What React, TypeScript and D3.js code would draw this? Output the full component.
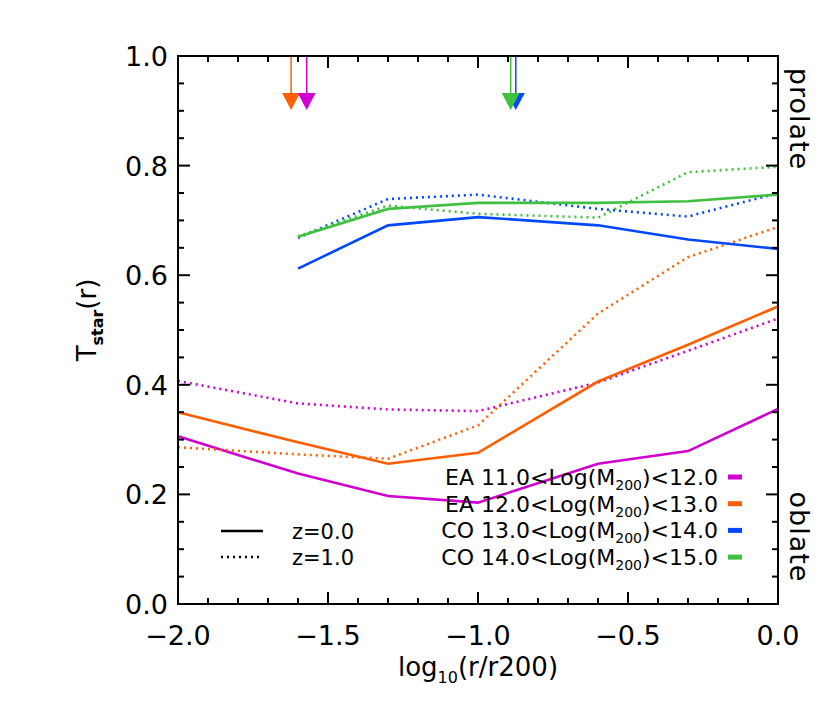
import React from 'react';
import * as d3 from 'd3';

// log10(r/r200) sample points
const radii = [-2.0, -1.6, -1.3, -1.0, -0.6, -0.3, 0.0];

// T_star(r) per mass bin, z=0 (solid) and z=1 (dotted)
const eaLowZ0 = [0.306, 0.238, 0.197, 0.185, 0.256, 0.279, 0.356];
const eaLowZ1 = [0.407, 0.366, 0.355, 0.352, 0.404, 0.462, 0.521];
const eaHighZ0 = [0.350, 0.295, 0.256, 0.276, 0.406, 0.473, 0.543];
const eaHighZ1 = [0.286, 0.273, 0.265, 0.326, 0.530, 0.633, 0.688];
const coLowZ0 = [null, 0.612, 0.691, 0.706, 0.691, 0.665, 0.648];
const coLowZ1 = [null, 0.668, 0.739, 0.747, 0.721, 0.707, 0.750];
const coHighZ0 = [null, 0.670, 0.721, 0.732, 0.732, 0.735, 0.747];
const coHighZ1 = [null, 0.671, 0.727, 0.712, 0.705, 0.788, 0.798];

const binNames = ['EA', 'EA', 'CO', 'CO'];
const binLow = ['11.0', '12.0', '13.0', '14.0'];
const binHigh = ['12.0', '13.0', '14.0', '15.0'];
const binColors = ['#d000d0', '#ff5f00', '#0048ff', '#40c040'];
// arrow positions (log10 r/r200) per bin
const arrowX = [-1.571, -1.623, -0.874, -0.891];
const arrowOrder = [1, 0, 2, 3];

const xTicks = [-2.0, -1.5, -1.0, -0.5, 0.0];
const yTicks = [0.0, 0.2, 0.4, 0.6, 0.8, 1.0];

const W = 830;
const H = 718;
const M = { left: 178, right: 778, top: 56, bottom: 604 };
const FONT = 'DejaVu Sans, sans-serif';

export default function App() {
  const x = d3.scaleLinear().domain([-2, 0]).range([M.left, M.right]);
  const y = d3.scaleLinear().domain([0, 1]).range([M.bottom, M.top]);

  const line = d3
    .line<[number, number | null]>()
    .defined((d) => d[1] !== null)
    .x((d) => x(d[0]))
    .y((d) => y(d[1] as number));

  const series = [
    { vals: eaLowZ0, c: 0, dot: false },
    { vals: eaLowZ1, c: 0, dot: true },
    { vals: eaHighZ0, c: 1, dot: false },
    { vals: eaHighZ1, c: 1, dot: true },
    { vals: coLowZ1, c: 2, dot: true },
    { vals: coHighZ1, c: 3, dot: true },
    { vals: coLowZ0, c: 2, dot: false },
    { vals: coHighZ0, c: 3, dot: false },
  ];

  const xMinor = d3.range(-2, 0.0001, 0.1);
  const yMinor = d3.range(0, 1.0001, 0.05);
  const isMajor = (v: number, step: number) => Math.abs(v / step - Math.round(v / step)) < 1e-6;

  return (
    <svg width={W} height={H} style={{ position: 'absolute', left: 0, top: 0, background: '#fff' }} fontFamily={FONT}>
      {/* data lines */}
      <g fill="none" strokeWidth={2.6}>
        {series.map((s, i) => (
          <path
            key={i}
            d={line(radii.map((r, j) => [r, s.vals[j]]) as [number, number | null][]) || ''}
            stroke={binColors[s.c]}
            strokeDasharray={s.dot ? '2,4' : undefined}
          />
        ))}
      </g>

      {/* arrows */}
      {arrowOrder.map((k) => {
        const ax = x(arrowX[k]);
        return (
          <g key={k} fill={binColors[k]} stroke={binColors[k]}>
            <line x1={ax} x2={ax} y1={M.top} y2={96} strokeWidth={1.5} />
            <path d={`M${ax - 9},93 L${ax + 9},93 L${ax},110 Z`} stroke="none" />
          </g>
        );
      })}

      {/* axes frame and ticks */}
      <g stroke="#000" strokeWidth={2}>
        <rect x={M.left} y={M.top} width={M.right - M.left} height={M.bottom - M.top} fill="none" />
        {xMinor.map((v, i) => {
          const len = isMajor(v, 0.5) ? 12 : 6;
          return (
            <g key={i}>
              <line x1={x(v)} x2={x(v)} y1={M.bottom} y2={M.bottom - len} />
              <line x1={x(v)} x2={x(v)} y1={M.top} y2={M.top + len} />
            </g>
          );
        })}
        {yMinor.map((v, i) => {
          const len = isMajor(v, 0.2) ? 12 : 6;
          return (
            <g key={i}>
              <line x1={M.left} x2={M.left + len} y1={y(v)} y2={y(v)} />
              <line x1={M.right} x2={M.right - len} y1={y(v)} y2={y(v)} />
            </g>
          );
        })}
      </g>

      {/* tick labels */}
      <g fontSize={27} fill="#000">
        {xTicks.map((v) => (
          <text key={v} x={x(v)} y={645} textAnchor="middle">
            {d3.format('.1f')(v).replace('-', '\u2212')}
          </text>
        ))}
        {yTicks.map((v) => (
          <text key={v} x={168} y={y(v) + 10} textAnchor="end">
            {d3.format('.1f')(v)}
          </text>
        ))}
      </g>

      {/* axis titles */}
      <text x={(M.left + M.right) / 2} y={676} textAnchor="middle" fontSize={26}>
        log
        <tspan fontSize={16} dy={7}>10</tspan>
        <tspan dy={-7}>(r/r200)</tspan>
      </text>
      <text transform={`translate(96,320) rotate(-90)`} textAnchor="middle" fontSize={26}>
        T<tspan fontSize={16} dy={7} fontWeight="bold">star</tspan>
        <tspan dy={-7}>(r)</tspan>
      </text>

      {/* prolate / oblate */}
      <text transform={`translate(790,119) rotate(90)`} textAnchor="middle" fontSize={27} letterSpacing={1}>prolate</text>
      <text transform={`translate(790,537) rotate(90)`} textAnchor="middle" fontSize={27} letterSpacing={1}>oblate</text>

      {/* mass legend */}
      <g fontSize={22}>
        {binNames.map((n, i) => {
          const ly = 485 + i * 26.7;
          return (
            <g key={i}>
              <text x={718} y={ly} textAnchor="end">
                {`${n}  ${binLow[i]}<Log(M`}
                <tspan fontSize={14} dy={5}>200</tspan>
                <tspan dy={-5}>{`)<${binHigh[i]}`}</tspan>
              </text>
              <line x1={728} x2={742} y1={ly - 8} y2={ly - 8} stroke={binColors[i]} strokeWidth={5} />
            </g>
          );
        })}
      </g>

      {/* redshift legend */}
      <g fontSize={21}>
        <line x1={221} x2={263} y1={531} y2={531} stroke="#000" strokeWidth={2.6} />
        <text x={292} y={539}>z=0.0</text>
        <line x1={221} x2={263} y1={557} y2={557} stroke="#000" strokeWidth={2.6} strokeDasharray="2,4" />
        <text x={292} y={565}>z=1.0</text>
      </g>
    </svg>
  );
}
